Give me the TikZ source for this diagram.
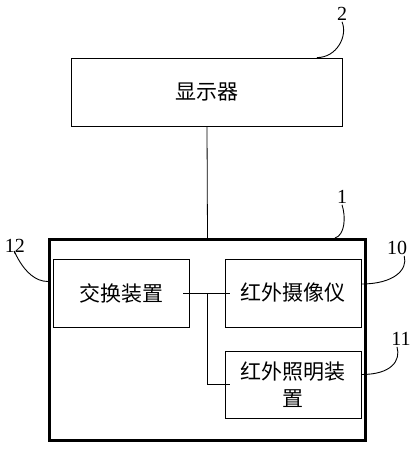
\documentclass[tikz,border=0pt]{standalone}
\usepackage{fontspec}
\setmainfont{Liberation Serif}
\newfontfamily\cjk{Noto Sans CJK SC}
\usetikzlibrary{calc}
\begin{document}
\begin{tikzpicture}[
x=1pt, y=-1pt,
box/.style={draw, line width=0.8pt, inner sep=0pt, font=\cjk\fontsize{21}{27}\selectfont, align=center},
num/.style={inner sep=1pt, font=\fontsize{20}{20}\selectfont},
lead/.style={line width=0.9pt}
]
\useasboundingbox (0,0) rectangle (416,450);
\node[box, minimum width=271pt, minimum height=68pt] (disp) at (207,92) {显示器};
\node[draw, line width=3pt, minimum width=316pt, minimum height=201pt] (dev) at (207.5,340) {};
\node[box, minimum width=136pt, minimum height=68pt] (sw) at (121,293) {交换装置};
\node[box, minimum width=136pt, minimum height=68pt] (cam) at (293,293) {红外摄像仪};
\node[box, minimum width=136pt, minimum height=67pt] (ir) at (293,384.5) {红外照明装\\置};
% reference numbers
\node[num] (l2) at (342,14) {2};
\node[num] (l1) at (342,197) {1};
\node[num] (l12) at (15,246) {12};
\node[num] (l10) at (397,248) {10};
\node[num] (l11) at (401,339) {11};
% links
\draw[line width=0.8pt] (disp.south) -- (dev.north);
\draw[line width=0.8pt] ([xshift=-6pt]sw.east) -- ([xshift=5pt]cam.west);
\draw[line width=0.8pt] ($(sw.east)!0.5!(cam.west)$) |- ([xshift=5pt]ir.west);
% leaders
\draw[lead] ([xshift=-26pt]disp.north east) .. controls +(20,0) and +(6,14) .. (l2.south);
\draw[lead] ([xshift=-32pt]dev.north east) .. controls +(10,-3) and +(4,12) .. (l1.south);
\draw[lead] ([yshift=-43.5pt]dev.north west) .. controls +(-26,0) and +(-4,-14) .. (l12.south);
\draw[lead] ([yshift=9pt]cam.east) .. controls +(32,0) and +(4,14) .. ([xshift=-4pt]l10.south east);
\draw[lead] ([yshift=10pt]ir.east) .. controls +(30,0) and +(4,14) .. ([xshift=-4pt]l11.south);
\end{tikzpicture}
\end{document}
